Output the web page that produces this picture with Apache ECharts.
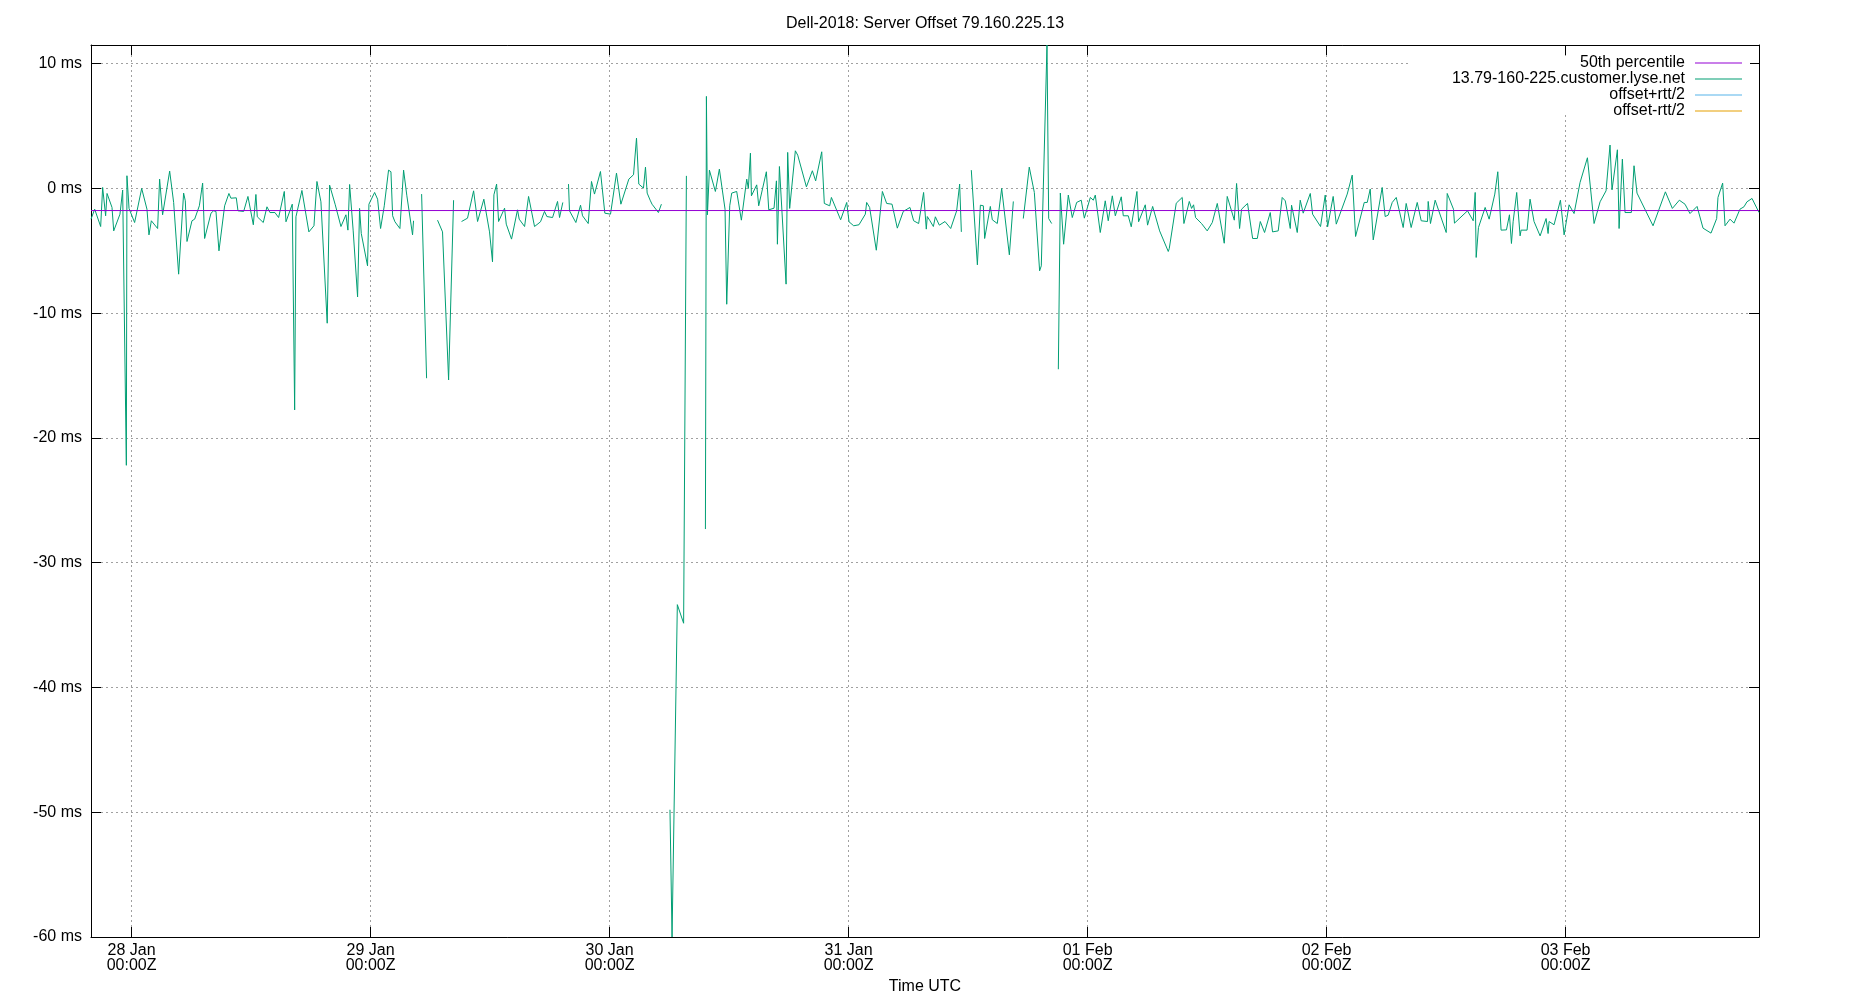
<!DOCTYPE html>
<html><head><meta charset="utf-8">
<script src="https://cdn.jsdelivr.net/npm/echarts@6/dist/echarts.min.js"></script>
<style>html,body{margin:0;padding:0;background:#fff}#c{width:1850px;height:1000px}</style>
</head><body><div id="c"></div>
<script>
const chartTitle = 'Dell-2018: Server Offset 79.160.225.13';
const seriesNames = ['50th percentile', '13.79-160-225.customer.lyse.net', 'offset+rtt/2', 'offset-rtt/2'];
const seriesColors = ['#9400d3', '#009e73', '#56b4e9', '#e69f00'];
const dayLabels = ['28 Jan', '29 Jan', '30 Jan', '31 Jan', '01 Feb', '02 Feb', '03 Feb'];
const yTickValues = [-60, -50, -40, -30, -20, -10, 0, 10];
const yMin = -60, yMax = 11.5;
const percentile50 = -1.77;
// sample times: hours after 28 Jan 00:00Z
const sampleHours = [
  -4.08,-3.71,-3.11,-2.91,-2.61,-2.47,-1.97,-1.80,-1.17,-0.90,
  -0.53,-0.47,-0.26,0.30,1.01,1.54,1.74,1.98,2.61,2.81,
  3.11,3.82,4.22,4.72,5.22,5.39,5.56,6.06,6.33,6.80,
  7.13,7.33,7.97,8.23,8.47,8.77,9.34,9.77,9.97,10.51,
  10.68,11.25,11.68,12.22,12.48,12.62,13.22,13.59,13.89,14.39,
  14.76,15.33,15.50,15.70,16.13,16.37,16.50,17.10,17.80,18.31,
  18.61,19.01,19.64,19.88,20.45,21.02,21.52,21.72,21.89,22.25,
  22.69,22.89,23.06,23.69,23.83,
  24.40,24.70,25.00,25.37,25.80,26.04,26.21,26.44,26.94,27.31,
  27.64,28.21,28.31,28.7,29.12,29.62,30.2,30.72,31.22,31.83,
  32.33,32.7,33.13,33.73,34.34,34.74,35.37,35.94,36.24,36.38,
  36.65,36.85,37.45,37.62,38.15,38.75,38.92,39.46,39.86,40.46,
  41.06,41.46,41.70,42.27,42.77,42.97,43.30,43.6,43.87,43.97,
  44.61,45.08,45.28,45.85,46.18,46.48,47.08,47.52,48.09,48.69,
  49.13,49.93,50.40,50.70,50.93,51.40,51.60,51.77,52.07,
  52.26,52.90,53.20,53.6,54.06,54.27,54.80,55.43,55.71,56.5,
  57.62,57.72,57.82,58.02,58.62,59.02,59.59,59.76,60.06,60.26,
  60.76,61.23,61.77,61.93,62.14,62.24,62.77,62.97,63.74,63.98,
  64.51,64.75,64.85,65.05,65.72,65.88,66.08,66.65,66.89,67.76,
  68.36,68.69,69.30,69.56,70.10,70.27,71.20,71.81,72.04,72.51,
  73.04,73.68,73.81,74.11,74.78,75.39,75.82,76.36,76.89,77.49,
  78.16,78.53,79.03,79.53,79.80,79.90,80.17,
  80.51,80.71,81.11,81.68,82.25,82.85,83.15,83.32,83.8,84.32,
  84.93,85.23,85.53,85.66,86.23,86.43,86.93,87.37,88.14,88.54,
  89.0,89.54,90.14,90.65,91.18,91.35,91.92,92.09,92.39,92.7,
  93.06,93.26,93.59,94.06,94.46,94.90,95.36,95.67,96.27,96.57,
  96.77,97.27,97.47,97.77,98.07,98.48,98.78,99.38,99.58,100.08,
  100.38,100.95,101.12,101.79,102.02,102.53,103.23,104.10,104.20,104.90,
  105.50,105.67,106.21,106.44,106.64,106.84,107.44,108.01,
  108.52,109.02,109.72,110.02,110.73,110.96,111.26,111.46,112.06,112.57,
  113.04,113.34,113.77,114.34,114.57,115.14,115.54,115.85,116.35,116.48,
  117.05,117.35,117.65,118.36,118.59,118.79,119.39,119.86,120.10,120.66,
  120.97,122.07,122.57,122.91,123.78,124.08,124.38,124.68,125.58,125.88,
  126.18,126.59,126.99,127.69,127.99,128.49,129.10,129.50,130.13,130.20,
  130.43,130.90,132.01,132.11,132.74,132.84,134.15,134.72,134.92,135.02,
  135.25,135.92,136.32,
  136.89,137.19,137.52,138.06,138.36,138.56,138.73,139.09,139.43,139.53,
  140.13,140.43,140.83,141.44,142.04,142.24,142.34,142.84,143.48,143.85,
  144.35,144.85,145.45,146.19,146.86,147.46,148.06,148.46,148.66,149.20,
  149.37,149.70,149.97,150.60,150.87,151.17,152.78,154.02,154.72,155.42,
  155.99,156.49,157.20,157.80,158.60,159.17,159.30,159.77,160.01,160.51,
  160.91,161.51,161.91,162.21,162.72,163.42
];
// offsets in ms (null = no data, line break)
const offsetMs = [
  -2.46,-1.66,-3.05,0.08,-2.19,-0.40,-1.52,-3.40,-2.06,-0.13,
  -22.19,1.02,-1.60,-2.73,0,-1.66,-3.72,-2.59,-3.21,0.75,
  -2.11,1.39,-1.12,-6.87,-0.37,-0.99,-4.25,-2.59,-2.46,-1.39,
  0.43,-4.01,-1.98,-1.79,-1.84,-5.00,-1.39,-0.40,-0.78,-0.75,
  -1.79,-1.84,-0.64,-2.91,-0.48,-2.27,-2.73,-1.47,-1.93,-1.93,
  -2.33,-0.24,-2.67,-2.73,-1.26,-17.75,-2.27,-0.16,-3.48,-2.99,
  0.56,-1.07,-10.80,0.27,-1.31,-3.05,-2.11,-3.34,0.32,-3.40,
  -8.69,-1.60,-3.61,-6.20,-1.26,
  -0.32,-0.86,-3.21,-1.39,1.47,1.34,-2.19,-2.67,-3.21,1.47,
  -0.59,-3.72,-2.59,null,-0.45,-15.21,null,-2.54,-3.48,-15.35,
  -0.94,null,-2.65,-2.38,-0.19,-2.65,-0.86,-3.48,-5.88,-0.51,
  0.35,-2.65,-1.58,-2.86,-4.06,-1.71,-2.46,-3.05,-0.64,-3.05,
  -2.67,-1.84,-2.25,-2.33,-1.04,-2.33,-1.12,null,0.35,-1.79,
  -2.73,-1.34,-2.19,-2.81,0.56,-0.45,1.36,-1.98,-2.06,1.23,
  -1.26,0.75,1.10,4.04,0.35,0.03,1.71,-0.37,-0.94,
  -1.26,-1.93,-1.26,null,-49.8,-60,-33.36,-34.85,1.01,null,
  -27.3,7.38,-2.11,1.47,-0.24,1.55,-1.66,-9.28,-1.39,-0.37,
  -0.24,-2.54,0.75,0,2.83,-0.59,0.29,-1.39,1.34,-1.71,
  -1.58,0.61,-4.47,1.76,-7.67,2.89,-1.60,3.02,2.67,0.13,
  1.42,0.61,2.94,-1.20,-1.39,-0.72,-2.51,-1.12,-2.67,-2.99,
  -2.91,-2.06,-1.12,-1.52,-4.95,-0.24,-1.20,-1.26,-3.18,-1.84,
  -1.52,-2.59,-2.81,-0.32,-3.26,-2.25,-2.59,
  -3.05,-2.27,-2.94,-2.65,-3.21,-1.79,0.35,-3.48,null,1.47,
  -6.12,-1.34,-1.39,-4.01,-1.44,-2.51,-2.81,0,-5.32,-1.04,
  null,-2.41,1.71,-0.32,-6.60,-6.20,11.5,-2.41,-2.81,null,
  -14.49,-0.37,-4.47,-0.53,-2.33,-1.12,-0.94,-2.38,-0.72,-0.94,
  -0.53,-3.53,-3.40,-0.99,-2.59,-0.59,-2.19,-0.67,-2.19,-2.19,
  -3.07,-0.24,-2.67,-1.31,-2.94,-1.44,-3.40,-5.05,-4.81,-1.18,
  -0.72,-2.81,-1.04,-1.60,-1.31,-2.33,-2.81,-3.40,
  -2.73,-1.20,-4.39,-0.64,-2.54,0.40,-3.21,-1.66,-1.20,-4.01,
  -4.01,-2.65,-3.53,-1.93,-3.48,-3.40,-0.72,-0.99,-3.21,-1.34,
  -3.53,-0.94,-1.98,-0.40,-2.06,-1.98,-3.05,-0.53,-3.07,-0.64,
  -2.86,-0.45,1.07,-3.85,-1.12,-1.12,-0.05,-4.12,0.08,-2.25,
  -2.14,-1.12,-0.72,-3.13,-1.20,-3.13,-1.12,-2.59,-2.65,-1.04,
  -2.81,-0.94,-3.53,-0.40,-1.66,-2.78,-1.79,-2.59,-0.32,-5.53,
  -3.13,-1.52,-2.46,
  -0.45,1.34,-3.34,-3.32,-2.11,-4.41,-2.67,-0.32,-3.80,-3.34,
  -3.34,-0.86,-2.65,-3.80,-2.41,-3.61,-2.65,-2.91,-0.94,-3.72,
  -1.31,-2.01,0.48,2.46,-2.81,-1.07,-0.19,3.48,-0.11,3.10,
  -3.21,2.35,-1.93,-1.93,1.82,-0.37,-2.99,-0.27,-1.60,-0.94,
  -1.26,-2.01,-1.44,-3.18,-3.58,-2.41,-0.72,0.43,-2.99,-2.46,
  -2.78,-1.66,-1.47,-1.07,-0.80,-1.93
];

const BASE = Date.UTC(2021, 0, 28);
const HOUR = 3600 * 1000, DAY = 24 * HOUR;
const xMin = BASE + sampleHours[0] * HOUR;
const xMax = BASE + sampleHours[sampleHours.length - 1] * HOUR;
if (sampleHours.length !== offsetMs.length) console.error('length mismatch', sampleHours.length, offsetMs.length);
const lineData = sampleHours.map((h, i) => [BASE + h * HOUR, offsetMs[i]]);

const FONT = '"Liberation Sans", Arial, sans-serif';
const GRID_LINE = { show: true, lineStyle: { color: '#a0a0a0', width: 1, type: [2, 3] } };
const AXIS_LINE = { show: true, onZero: false, lineStyle: { color: '#000', width: 1 } };
const TICK = { show: true, inside: true, length: 10, lineStyle: { color: '#000', width: 1 } };

function xLabel(v) {
  const d = new Date(v);
  if (d.getUTCHours() !== 0 || d.getUTCMinutes() !== 0) return '';
  const idx = Math.round((v - BASE) / DAY);
  if (idx < 0 || idx >= dayLabels.length) return '';
  return dayLabels[idx] + '\n00:00Z';
}
function yLabel(v) {
  return yTickValues.indexOf(v) >= 0 ? v + ' ms' : '';
}

const chart = echarts.init(document.getElementById('c'), null, { renderer: 'canvas' });
chart.setOption({
  animation: false,
  useUTC: true,
  backgroundColor: '#fff',
  textStyle: { fontFamily: FONT },
  title: {
    text: chartTitle, left: 'center', top: 11,
    textStyle: { fontSize: 16, fontWeight: 'normal', color: '#000', fontFamily: FONT }
  },
  grid: { left: 91, right: 91, top: 45, bottom: 63, containLabel: false, outerBoundsMode: 'none' },
  legend: {
    data: seriesNames, orient: 'vertical', right: 108, top: 55, align: 'right',
    padding: 0, itemGap: 0, itemWidth: 47, itemHeight: 1, icon: 'rect',
    selectedMode: false,
    textStyle: { fontSize: 16, lineHeight: 15, color: '#000', fontFamily: FONT, padding: [0, 5, 0, 0] }
  },
  graphic: [{
    type: 'rect', z: 1, silent: true,
    shape: { x: 1408, y: 56, width: 342, height: 58 },
    style: { fill: '#fff' }
  }],
  xAxis: [{
    type: 'time', min: xMin, max: xMax,
    minInterval: DAY, maxInterval: DAY,
    axisLine: AXIS_LINE, axisTick: TICK, splitLine: GRID_LINE,
    axisLabel: { formatter: xLabel, fontSize: 16, lineHeight: 15, color: '#000', margin: 6, fontFamily: FONT, showMinLabel: false, showMaxLabel: false, hideOverlap: false },
    name: 'Time UTC', nameLocation: 'middle', nameGap: 35,
    nameTextStyle: { fontSize: 16, color: '#000', fontFamily: FONT }
  }, {
    type: 'time', position: 'top', min: xMin, max: xMax,
    minInterval: DAY, maxInterval: DAY,
    axisLine: AXIS_LINE, axisTick: TICK, splitLine: { show: false },
    axisLabel: { show: false }
  }],
  yAxis: [{
    type: 'value', min: yMin, max: yMax, interval: 10,
    axisLine: AXIS_LINE, axisTick: TICK, splitLine: GRID_LINE,
    axisLabel: { formatter: yLabel, fontSize: 16, color: '#000', margin: 9, fontFamily: FONT }
  }, {
    type: 'value', position: 'right', min: yMin, max: yMax, interval: 10,
    axisLine: AXIS_LINE, axisTick: TICK, splitLine: { show: false },
    axisLabel: { show: false }
  }],
  series: [{
    name: seriesNames[1], type: 'line', z: 2,
    data: lineData, connectNulls: false,
    showSymbol: false, symbol: 'none',
    lineStyle: { color: seriesColors[1], width: 1 }, itemStyle: { color: seriesColors[1] }
  }, {
    name: seriesNames[0], type: 'line', z: 3,
    data: [[xMin, percentile50], [xMax, percentile50]],
    showSymbol: false, symbol: 'none',
    lineStyle: { color: seriesColors[0], width: 1 }, itemStyle: { color: seriesColors[0] }
  }, {
    name: seriesNames[2], type: 'line', data: [], showSymbol: false, symbol: 'none',
    lineStyle: { color: seriesColors[2], width: 1 }, itemStyle: { color: seriesColors[2] }
  }, {
    name: seriesNames[3], type: 'line', data: [], showSymbol: false, symbol: 'none',
    lineStyle: { color: seriesColors[3], width: 1 }, itemStyle: { color: seriesColors[3] }
  }]
});
</script>
</body></html>
